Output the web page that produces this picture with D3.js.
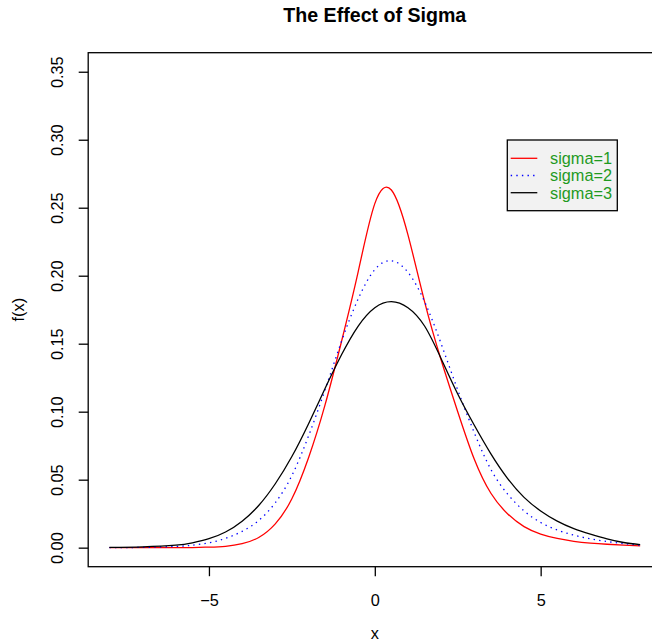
<!DOCTYPE html>
<html>
<head>
<meta charset="utf-8">
<script src="https://cdn.jsdelivr.net/npm/d3@7"></script>
<style>
  body { margin: 0; background: #ffffff; }
  text { font-family: "Liberation Sans", Arial, Helvetica, sans-serif; }
</style>
</head>
<body>
<div id="wrapper"></div>
<script>
// values
const xValues = [-8, -7, -6, -5.5, -5, -4.5, -4, -3.5, -3, -2.5, -2, -1.5, -1, -0.5, 0,
  0.5, 1, 1.5, 2, 2.5, 3, 3.5, 4, 4.5, 5, 5.5, 6, 6.5, 7, 7.5, 8]

const sigma1 = [0.0000, 0.0000, 0.0000, 0.0001, 0.0004, 0.0010, 0.0029, 0.0075, 0.0175, 0.0360,
  0.0660, 0.1050, 0.1520, 0.2030, 0.2530, 0.2630, 0.2300, 0.1810, 0.1380, 0.1000, 0.0650,
  0.0400, 0.0250, 0.0155, 0.0100, 0.0068, 0.0047, 0.0034, 0.0025, 0.0018, 0.0013]

const sigma2 = [0.0000, 0.0002, 0.0009, 0.0018, 0.0036, 0.0068, 0.0120, 0.0200, 0.0330, 0.0530,
  0.0820, 0.1160, 0.1520, 0.1830, 0.2045, 0.2110, 0.2025, 0.1810, 0.1500, 0.1160, 0.0845,
  0.0575, 0.0395, 0.0270, 0.0185, 0.0130, 0.0092, 0.0065, 0.0045, 0.0030, 0.0018]

const sigma3 = [0.0002, 0.0006, 0.0018, 0.0036, 0.0066, 0.0115, 0.0195, 0.0310, 0.0470, 0.0670,
  0.0910, 0.1170, 0.1420, 0.1630, 0.1765, 0.1810, 0.1765, 0.1630, 0.1390, 0.1130, 0.0900,
  0.0690, 0.0510, 0.0370, 0.0270, 0.0195, 0.0140, 0.0100, 0.0065, 0.0038, 0.0022]

const seriesNames = ["sigma=1", "sigma=2", "sigma=3"]
const xTicks = [-5, 0, 5]
const yTicks = [0, 0.05, 0.10, 0.15, 0.20, 0.25, 0.30, 0.35]

function drawChart() {

  // 1. data
  const series = [sigma1, sigma2, sigma3].map((vals, i) => ({
    name: seriesNames[i],
    points: vals.map((v, j) => ({ x: xValues[j], y: v }))
  }))
  const styles = [
    { color: "#ff0000", dash: null },
    { color: "#0000ff", dash: "1.4,4.2" },
    { color: "#000000", dash: null }
  ]

  // 2. dimensions (plot box runs past the right edge, as in the reference)
  const dimensions = {
    width: 652,
    height: 644,
    left: 88.2,
    right: 661.4,
    top: 52.7,
    bottom: 566.7
  }

  // 3. canvas
  const svg = d3.select("#wrapper")
    .append("svg")
      .attr("width", dimensions.width)
      .attr("height", dimensions.height)

  // 4. scales (R style 4% padding)
  const xScale = d3.scaleLinear()
    .domain([-8.64, 8.64])
    .range([dimensions.left, dimensions.right])

  const yScale = d3.scaleLinear()
    .domain([-0.014, 0.364])
    .range([dimensions.bottom, dimensions.top])

  // 5. draw data
  const lineGenerator = d3.line()
    .x(d => xScale(d.x))
    .y(d => yScale(d.y))
    .curve(d3.curveNatural)

  series.forEach((s, i) => {
    svg.append("path")
      .attr("d", lineGenerator(s.points))
      .attr("fill", "none")
      .attr("stroke", styles[i].color)
      .attr("stroke-width", 1.3)
      .attr("stroke-dasharray", styles[i].dash)
  })

  // 6. peripherals
  svg.append("rect")
    .attr("x", dimensions.left)
    .attr("y", dimensions.top)
    .attr("width", dimensions.right - dimensions.left)
    .attr("height", dimensions.bottom - dimensions.top)
    .attr("fill", "none")
    .attr("stroke", "#000")
    .attr("stroke-width", 1.3)

  const xAxis = svg.append("g")
    .attr("transform", `translate(0, ${dimensions.bottom})`)
    .call(d3.axisBottom(xScale).tickValues(xTicks).tickSize(9.5).tickPadding(18)
      .tickFormat(d => d < 0 ? "\u2212" + Math.abs(d) : d))
  xAxis.select(".domain").remove()
  xAxis.selectAll("line").attr("stroke-width", 1.3)
  xAxis.selectAll("text")
    .attr("font-size", 16.3)
    .attr("font-family", "Liberation Sans, Arial, sans-serif")

  const yAxis = svg.append("g")
    .attr("transform", `translate(${dimensions.left}, 0)`)
    .call(d3.axisLeft(yScale).tickValues(yTicks).tickSize(9.5).tickFormat(d3.format(".2f")))
  yAxis.select(".domain").remove()
  yAxis.selectAll("line").attr("stroke-width", 1.3)
  yAxis.selectAll("text")
    .attr("x", null)
    .attr("dy", null)
    .attr("font-size", 16.3)
    .attr("font-family", "Liberation Sans, Arial, sans-serif")
    .attr("text-anchor", "middle")
    .attr("transform", "translate(-25.4, 0) rotate(-90)")

  // title and axis labels
  svg.append("text")
    .attr("x", (dimensions.left + dimensions.right) / 2)
    .attr("y", 21.5)
    .attr("text-anchor", "middle")
    .attr("font-size", 19.6)
    .attr("font-weight", "bold")
    .text("The Effect of Sigma")

  svg.append("text")
    .attr("x", (dimensions.left + dimensions.right) / 2)
    .attr("y", 639)
    .attr("text-anchor", "middle")
    .attr("font-size", 16.3)
    .text("x")

  svg.append("text")
    .attr("transform", `translate(24, ${(dimensions.top + dimensions.bottom) / 2}) rotate(-90)`)
    .attr("text-anchor", "middle")
    .attr("font-size", 16.3)
    .text("f(x)")

  // legend
  const legend = svg.append("g")
  legend.append("rect")
    .attr("x", 507.3)
    .attr("y", 140)
    .attr("width", 110)
    .attr("height", 70.7)
    .attr("fill", "#f2f2f2")
    .attr("stroke", "#000")
    .attr("stroke-width", 1.3)

  const rowY = d3.scalePoint().domain(seriesNames).range([158.3, 192.7])
  seriesNames.forEach((name, i) => {
    legend.append("line")
      .attr("x1", 510.7)
      .attr("x2", 537.3)
      .attr("y1", rowY(name))
      .attr("y2", rowY(name))
      .attr("stroke", styles[i].color)
      .attr("stroke-width", 1.3)
      .attr("stroke-dasharray", styles[i].dash)
    legend.append("text")
      .attr("x", 550)
      .attr("y", rowY(name))
      .attr("dy", "0.36em")
      .attr("font-size", 16.3)
      .attr("fill", "#1f9a1f")
      .text(name)
  })
}

drawChart()
</script>
</body>
</html>
